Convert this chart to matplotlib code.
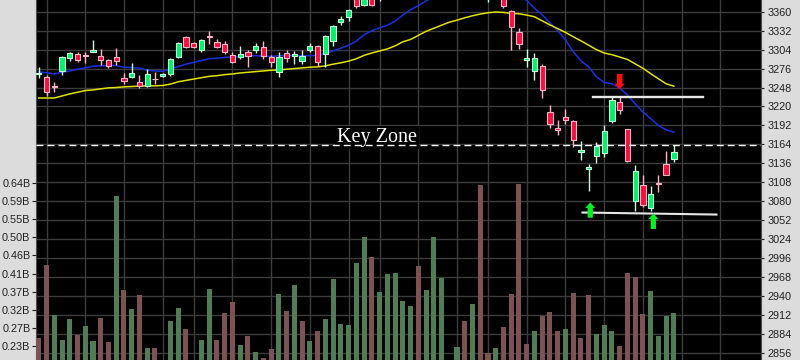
import numpy as np
import matplotlib.pyplot as plt
from matplotlib.patches import FancyArrow

plt.rcParams['font.family'] = ['Liberation Sans', 'DejaVu Sans']

# daily OHLC (index 44-59 sit above the visible price window)
opens = [3268, 3264, 3250, 3273, 3292, 3297, 3295.5, 3300.5, 3295, 3289,
         3293, 3262, 3263, 3256, 3249.5, 3261, 3265, 3268, 3293, 3322.5,
         3313.5, 3303, 3324, 3315, 3312.5, 3295.5, 3293, 3300, 3304, 3308.5,
         3292.5, 3271.5, 3299, 3294, 3286.5, 3303, 3309.5, 3297.5, 3316, 3345.5,
         3351.5, 3392, 3370, 3388, 3390, 3396, 3405, 3412, 3402, 3410,
         3395, 3408, 3420, 3415, 3412, 3418, 3406, 3414, 3396, 3398,
         3400, 3361.5, 3330, 3288, 3273, 3280, 3211.5, 3188, 3204, 3199,
         3152.5, 3127.5, 3147.5, 3151, 3198, 3226.5, 3186, 3080.5, 3104, 3069.5,
         3106, 3135, 3142.5]
highs = [3279, 3267, 3256, 3294, 3300, 3300, 3301, 3318.5, 3305, 3290,
         3306, 3269, 3284, 3267, 3275, 3271.5, 3270, 3291.5, 3315.5, 3323.5,
         3315, 3319.5, 3332, 3320, 3316, 3301, 3309.5, 3303, 3314.5, 3316,
         3296.5, 3300, 3304, 3301.5, 3303, 3314.5, 3311, 3325.5, 3340.5, 3354,
         3364.5, 3396, 3390, 3392, 3402, 3410, 3418, 3420, 3415, 3416,
         3412, 3425, 3430, 3422, 3420, 3424, 3420, 3418, 3405, 3412,
         3408, 3363, 3336, 3305, 3299, 3283, 3222.5, 3200, 3216.5, 3200.5,
         3169, 3135, 3168, 3193, 3234.5, 3234.5, 3187, 3134, 3119, 3102,
         3119, 3153.5, 3163]
lows = [3262, 3235, 3242, 3266, 3286.5, 3285, 3284, 3300, 3281, 3277,
        3282, 3253, 3262, 3248, 3248.5, 3253, 3263, 3265, 3291.5, 3307,
        3306, 3301, 3312, 3307, 3297.5, 3284, 3290.5, 3279, 3299, 3290.5,
        3279, 3264, 3285, 3282.5, 3283, 3300, 3280, 3279, 3309.5, 3340.5,
        3346.5, 3366, 3368, 3368, 3376, 3385, 3395, 3398, 3392, 3390,
        3388, 3400, 3408, 3405, 3400, 3402, 3398, 3392, 3374, 3385,
        3366, 3303, 3305, 3279, 3259.5, 3232, 3188, 3178, 3194.5, 3160,
        3141, 3094.5, 3137, 3145, 3195.5, 3208.5, 3138, 3065, 3072, 3066,
        3093, 3118, 3138.5]
closes = [3270, 3241, 3249, 3293, 3299, 3289, 3294.5, 3303.5, 3288, 3280,
          3286.5, 3258, 3269, 3249.5, 3268, 3260, 3268, 3290, 3313.5, 3308.5,
          3308, 3318.5, 3323, 3308.5, 3300, 3285.5, 3298, 3294, 3309.5, 3294,
          3285, 3293, 3291.5, 3297.5, 3294, 3309.5, 3285.5, 3324.5, 3339.5, 3349,
          3363, 3369, 3386, 3370, 3396, 3405, 3412, 3402, 3410, 3395,
          3408, 3420, 3415, 3412, 3418, 3406, 3414, 3396, 3398, 3406,
          3368, 3337.5, 3312, 3291.5, 3291.5, 3244, 3194, 3184.5, 3200, 3170,
          3155, 3131, 3161, 3183.5, 3230, 3215, 3140, 3125, 3074, 3091,
          3105, 3118, 3152]

# volume in billions, and whether the bar is drawn as an up day
volumes = [0.249, 0.433, 0.306, 0.243, 0.296, 0.256, 0.279, 0.240, 0.299, 0.238,
           0.606, 0.370, 0.321, 0.357, 0.223, 0.223, 0.18, 0.291, 0.324, 0.271,
           0.18, 0.243, 0.372, 0.243, 0.311, 0.339, 0.230, 0.253, 0.213, 0.198,
           0.220, 0.359, 0.316, 0.382, 0.291, 0.240, 0.266, 0.296, 0.397, 0.283,
           0.281, 0.437, 0.503, 0.452, 0.364, 0.409, 0.412, 0.341, 0.329, 0.430,
           0.369, 0.503, 0.399, 0.18, 0.225, 0.291, 0.334, 0.634, 0.210, 0.223,
           0.276, 0.359, 0.637, 0.233, 0.266, 0.303, 0.314, 0.266, 0.271, 0.362,
           0.248, 0.357, 0.258, 0.281, 0.266, 0.228, 0.412, 0.402, 0.309, 0.367,
           0.253, 0.303, 0.311]
vol_up = [0, 0, 1, 1, 1, 0, 1, 1, 0, 0, 1, 0, 1, 0, 1, 0, 1, 1, 1, 0,
          0, 1, 1, 0, 0, 0, 1, 0, 1, 0, 0, 1, 0, 1, 0, 1, 0, 1, 1, 1,
          1, 1, 1, 0, 1, 1, 1, 1, 1, 0, 1, 1, 1, 0, 1, 0, 1, 0, 0, 1,
          0, 0, 0, 0, 1, 0, 0, 0, 1, 0, 0, 0, 1, 1, 1, 0, 0, 0, 0, 1,
          1, 1, 1]

# moving averages
ma_fast = [3271, 3270, 3268, 3270.5, 3272.5, 3275, 3277, 3279.5, 3280, 3280.5,
           3280.5, 3278, 3277.5, 3276.5, 3273.5, 3272.5, 3272, 3275.5, 3279, 3282.5,
           3285, 3288, 3290.5, 3291.5, 3292.5, 3293, 3293.5, 3294.5, 3295, 3294.5,
           3294, 3295, 3295, 3295, 3295, 3295, 3295.5, 3298, 3302, 3306,
           3310.5, 3316.5, 3326, 3332, 3336, 3340, 3346, 3355, 3363, 3369,
           3376, 3382, 3387, 3391, 3394, 3396, 3397, 3397, 3396, 3394,
           3391, 3387, 3382, 3377, 3365, 3355.5, 3343.5, 3332, 3318.5, 3301,
           3287.5, 3278.5, 3264, 3255.5, 3253.5, 3247.5, 3237, 3224, 3212, 3202,
           3192, 3185.5, 3182]
ma_slow = [3232.5, 3232.5, 3232.5, 3235.5, 3238.5, 3241, 3243.5, 3244.5, 3246, 3247.5,
           3248, 3249, 3249.5, 3250, 3250.5, 3250.5, 3251, 3253, 3256.5, 3258.5,
           3260.5, 3262.5, 3264.5, 3265.5, 3267, 3268, 3269.5, 3270.5, 3271.5, 3272.5,
           3273.5, 3274, 3275, 3276, 3277, 3278, 3278.5, 3280, 3282.5, 3284.5,
           3287, 3290.5, 3295.5, 3299, 3302, 3305, 3309.5, 3315.5, 3319, 3325,
           3331, 3335.5, 3340, 3344.5, 3347.5, 3351, 3354, 3356.5, 3358.5, 3359.5,
           3359, 3357.5, 3357, 3355, 3352.5, 3346.5, 3340.5, 3335, 3329.5, 3323,
           3317, 3310.5, 3304, 3299, 3296.5, 3293, 3289.5, 3283, 3276.5, 3268.5,
           3261, 3253.5, 3250]

price_ticks = [2856, 2884, 2912, 2940, 2968, 2996, 3024, 3052, 3080, 3108, 3136,
               3164, 3192, 3220, 3248, 3276, 3304, 3332, 3360]
vol_ticks = [0.2285, 0.2741, 0.3196, 0.3652, 0.4107, 0.4563, 0.5019, 0.5474, 0.5930, 0.6385]
vol_labels = ['0.23B', '0.27B', '0.32B', '0.37B', '0.41B', '0.46B', '0.50B', '0.55B', '0.59B', '0.64B']
week_starts = [1, 6, 11, 16, 20, 25, 30, 35, 40, 44, 49, 54, 58, 63, 68, 73, 78, 83, 88]

# hand-drawn annotations
key_level = 3162.5
resistance = (71.6, 85.8, 3234.7, 3234.7)
support = (70.2, 87.5, 3063.3, 3060.3)
sell_arrow = (75.0, 3268, 3245.3)
buy_arrows = [(71.2, 3055.6, 3078.4), (79.35, 3039, 3062.1)]

opens, highs, lows, closes = map(np.array, (opens, highs, lows, closes))
x = np.arange(len(closes))
up = closes >= opens

fig = plt.figure(figsize=(8, 3.6), dpi=100, facecolor='#dcdcdc')
ax = fig.add_axes([36 / 800, 0, 725 / 800, 1])
ax.set_facecolor('black')
vol = ax.twinx()

ax.set_xlim(-0.36, 93.25)
ax.set_ylim(2845.4, 3377.3)
ax.set_xticks(week_starts)
ax.set_yticks(price_ticks)
ax.grid(True, color='#3c3c3c', linewidth=1.0)
ax.set_axisbelow(True)
ax.tick_params(axis='x', length=0, labelbottom=False)
ax.yaxis.tick_right()
ax.tick_params(axis='y', length=2, pad=3, labelsize=7.8, colors='#202020')
for s in ('top', 'bottom'):
    ax.spines[s].set_visible(False)
for s in ('left', 'right'):
    ax.spines[s].set_color('#505050')

# moving averages
ax.plot(x, ma_fast, color='#1832e0', lw=1.1, zorder=2)
ax.plot(x, ma_slow, color='#e2e200', lw=1.1, zorder=2)

# candles
wick_col = np.where(up, '#c4ffdc', '#ffb3c6')
fill_col = np.where(up, '#00f06a', '#f5103f')
body_lo = np.minimum(opens, closes)
body_h = np.maximum(np.abs(closes - opens), 1.2)
ax.vlines(x, lows, highs, colors=wick_col, linewidth=1.0, zorder=3)
ax.bar(x, body_h, width=0.68, bottom=body_lo, color=fill_col,
       edgecolor=wick_col, linewidth=0.8, zorder=4)

# key zone
ax.axhline(key_level, color='white', lw=1.0, ls=(0, (5.0, 2.9)), zorder=5)
ax.text(43.7, 3167.5, 'Key Zone', family='Liberation Serif', fontsize=14.5,
        color='white', ha='center', va='baseline', zorder=4,
        bbox=dict(facecolor='black', edgecolor='none', pad=1.5))

ax.plot(resistance[:2], resistance[2:], color='#e6e6e6', lw=1.7, zorder=5)
ax.plot(support[:2], support[2:], color='#e6e6e6', lw=1.5, zorder=5)

ax.add_patch(FancyArrow(sell_arrow[0], sell_arrow[1], 0, sell_arrow[2] - sell_arrow[1],
                        width=0.72, head_width=1.3, head_length=8.5,
                        length_includes_head=True, color='#ff1010', lw=0, zorder=6))
for bx, y0, y1 in buy_arrows:
    ax.add_patch(FancyArrow(bx, y0, 0, y1 - y0, width=0.68, head_width=1.3,
                            head_length=8.5, length_includes_head=True,
                            color='#00f020', lw=0, zorder=6))

# volume on its own scale, left side
vol.set_ylim(0.1924, 1.1013)
vol.bar(x, volumes, width=0.65,
        color=['#517c55' if u else '#7c5252' for u in vol_up], zorder=2)
vol.yaxis.tick_left()
vol.set_yticks(vol_ticks)
vol.set_yticklabels(vol_labels)
vol.tick_params(axis='y', length=3, pad=1, labelsize=7.8, colors='#202020')
for s in vol.spines.values():
    s.set_visible(False)

fig.savefig('out.png', dpi=100, facecolor=fig.get_facecolor())
